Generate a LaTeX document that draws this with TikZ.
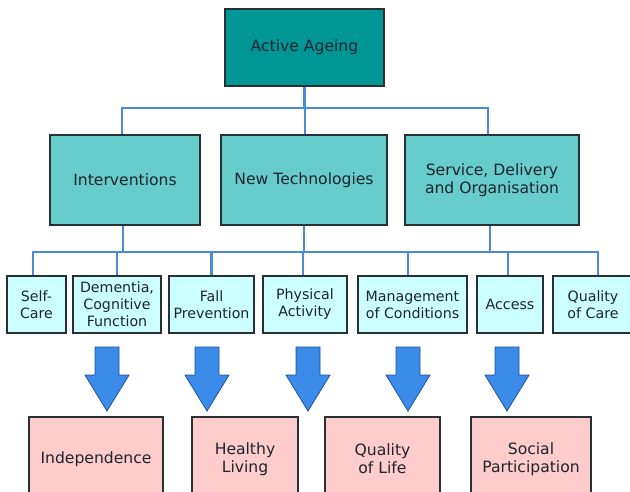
\documentclass[tikz,border=0pt]{standalone}
\usepackage{fontspec}
\setmainfont{DejaVu Sans}
\definecolor{topfill}{RGB}{0,150,150}
\definecolor{midfill}{RGB}{102,204,204}
\definecolor{lowfill}{RGB}{204,255,255}
\definecolor{resfill}{RGB}{255,204,204}
\definecolor{conncol}{RGB}{74,138,216}
\definecolor{arrfill}{RGB}{58,140,232}
\definecolor{arrline}{RGB}{30,80,160}
\definecolor{txtcol}{RGB}{28,36,48}
\definecolor{boxline}{RGB}{40,48,52}
\begin{document}
\begin{tikzpicture}[x=1pt,y=-1pt,
  box/.style={draw=boxline, line width=1.1pt, rectangle, align=center, text=txtcol, inner sep=1pt},
  big/.style={box, font=\fontsize{15.6}{18.2}\selectfont},
  small/.style={box, font=\fontsize{14.2}{17}\selectfont, fill=lowfill, minimum height=57pt},
  conn/.style={draw=conncol, line width=2.4pt},
  arrowfill/.style={fill=arrfill, draw=arrline, line width=0.8pt, line join=miter},
  downarrow/.pic={\path[arrowfill] (-12,0) -- (12,0) -- (12,28) -- (22,28) -- (0,64) -- (-22,28) -- (-12,28) -- cycle;}
]
\useasboundingbox (0,0) rectangle (630,491);
\clip (0,0) rectangle (630,491);
\fill[white] (0,0) rectangle (630,491);

% level 1
\node[big, fill=topfill, minimum width=159pt, minimum height=77pt] (top) at (304.5,47.5) {Active Ageing};

% level 2
\node[big, fill=midfill, minimum width=150pt, minimum height=90pt] (int) at (125,180) {Interventions};
\node[big, fill=midfill, minimum width=166pt, minimum height=90pt] (newt) at (304,180) {New Technologies};
\node[big, fill=midfill, minimum width=174pt, minimum height=90pt] (serv) at (492,180) {Service, Delivery\\and Organisation};

% level 3
\node[small, minimum width=59pt] (sc) at (36.5,304.5) {Self-\\Care};
\node[small, minimum width=88pt] (dem) at (117,304.5) {Dementia,\\Cognitive\\Function};
\node[small, minimum width=85pt] (fall) at (211.5,304.5) {Fall\\Prevention};
\node[small, minimum width=84pt] (phys) at (305,304.5) {Physical\\Activity};
\node[small, minimum width=109pt] (man) at (412.5,304.5) {Management\\of Conditions};
\node[small, minimum width=66pt] (acc) at (510,304.5) {Access};
\node[small, minimum width=80pt] (qc) at (593,304.5) {Quality\\of Care};

% level 4
\node[big, fill=resfill, minimum width=134pt, minimum height=84pt] (ind) at (96,459) {Independence};
\node[big, fill=resfill, minimum width=106pt, minimum height=84pt] (hl) at (245,459) {Healthy\\Living};
\node[big, fill=resfill, minimum width=115pt, minimum height=84pt] (ql) at (382.5,459) {Quality\\of Life};
\node[big, fill=resfill, minimum width=120pt, minimum height=84pt] (sp) at (531,459) {Social\\Participation};

% connectors level 1 -> 2
\coordinate (bus1) at (0,108);
\draw[conn] (top.south) -- (top.south |- bus1);
\draw[conn] ([xshift=-3pt]int.north) -- ([xshift=-3pt]int.north |- bus1) -- ([xshift=-4pt]serv.north |- bus1) -- ([xshift=-4pt]serv.north);
\draw[conn] ([xshift=1pt]newt.north) -- ([xshift=1pt]newt.north |- bus1);

% connectors level 2 -> 3
\coordinate (bus2) at (0,252);
\draw[conn] ([xshift=-2pt]int.south) -- ([xshift=-2pt]int.south |- bus2);
\draw[conn] (newt.south) -- (newt.south |- bus2);
\draw[conn] ([xshift=-2pt]serv.south) -- ([xshift=-2pt]serv.south |- bus2);
\draw[conn] ([xshift=-3.5pt]sc.north) -- ([xshift=-3.5pt]sc.north |- bus2) -- ([xshift=5pt]qc.north |- bus2) -- ([xshift=5pt]qc.north);
\draw[conn] (dem.north) -- (dem.north |- bus2);
\draw[conn] (fall.north) -- (fall.north |- bus2);
\draw[conn] ([xshift=-2pt]phys.north) -- ([xshift=-2pt]phys.north |- bus2);
\draw[conn] ([xshift=-4.5pt]man.north) -- ([xshift=-4.5pt]man.north |- bus2);
\draw[conn] ([xshift=-2pt]acc.north) -- ([xshift=-2pt]acc.north |- bus2);

% block arrows
\pic at (107,347) {downarrow};
\pic at (207,347) {downarrow};
\pic at (308,347) {downarrow};
\pic at (408,347) {downarrow};
\pic at (507,347) {downarrow};
\end{tikzpicture}
\end{document}
